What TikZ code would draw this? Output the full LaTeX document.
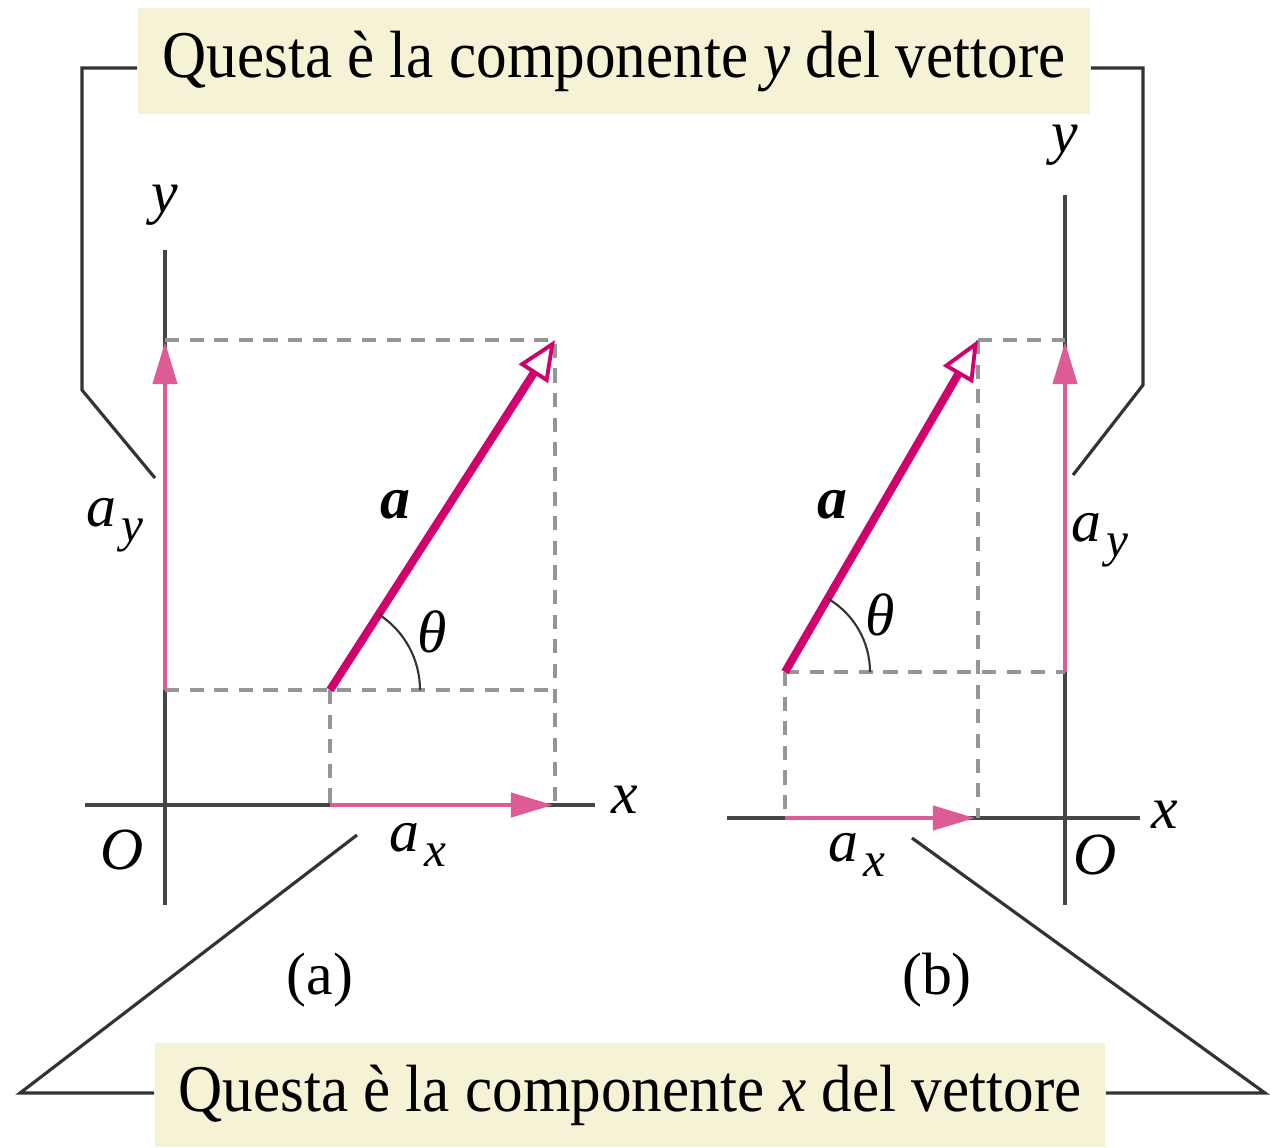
\documentclass[tikz,border=0pt]{standalone}
\usepackage{fontspec}
\setmainfont{Liberation Serif}
\newfontfamily\notefont[FakeStretch=0.915]{Liberation Serif}
\usepackage{tikz}
\usetikzlibrary{arrows.meta}

\definecolor{vecmag}{RGB}{208,0,108}
\definecolor{comppink}{RGB}{222,92,150}
\definecolor{notefill}{RGB}{246,242,214}
\definecolor{axisgray}{RGB}{70,70,70}
\definecolor{dashgray}{RGB}{150,150,150}

% component label: italic a with a lowered subscript
\newcommand{\complab}[1]{\textit{a}\kern1.5pt\raisebox{-0.55ex}{\fontsize{14}{14}\selectfont\textit{#1}}}

\begin{document}
\begin{tikzpicture}[x=0.01cm, y=-0.01cm,
axis/.style={draw=axisgray, line width=1pt},
guide/.style={draw=dashgray, line width=1pt, dash pattern=on 4pt off 3pt},
vec/.style={draw=vecmag, line width=2.3pt, -{Triangle[open, length=4mm, width=3.4mm, fill=white, line width=1.1pt]}},
comp/.style={draw=comppink, line width=1.2pt, -{Triangle[length=4.2mm, width=2.4mm]}},
callout/.style={draw=black!80, line width=0.9pt},
note/.style={fill=notefill, inner sep=0pt, font=\notefont\fontsize{19}{21}\selectfont},
lab/.style={inner sep=0pt, font=\fontsize{17}{19}\selectfont}
]
\useasboundingbox (0,0) rectangle (1270,1147);

% --- boxes
\node[note, minimum width=9.52cm, minimum height=1.05cm] (ynote) at (614,61) {Questa è la componente \textit{y} del vettore};
\node[note, minimum width=9.5cm, minimum height=1.04cm] (xnote) at (630,1095) {Questa è la componente \textit{x} del vettore};

% --- (a)
\coordinate (Oa) at (165,805);
\coordinate (tailA) at (330,690);
\coordinate (headA) at (555,340);
\draw[axis] (165,250) -- (165,905);
\draw[axis] (85,805) -- (595,805);
\draw[guide] (165,340) -- (headA) -- (555,805);
\draw[guide] (165,690) -- (555,690);
\draw[guide] (tailA) -- (330,805);
\draw[comp] (165,690) -- (165,342);
\draw[comp] (330,805) -- (553,805);
\draw[vec] (tailA) -- (headA);
\draw[black!80, line width=0.6pt] ([shift={(90,0)}]tailA) arc[start angle=0, end angle=-57, radius=90];

\node[lab] (ya) at (165,205) {\textit{y}};
\node[lab] (xa) at (625,800) {\textit{x}};
\node[lab] (oa) at (122,850) {\textit{O}};
\node[lab] (veca) at (395,505) {\textbf{\textit{a}}};
\node[lab] (tha) at (432,632) {\textit{θ}};
\node[lab] (axa) at (418,845) {\complab{x}};
\node[lab] (aya) at (115,525) {\complab{y}};
\node[lab] (capa) at (320,980) {(a)};

% --- (b)
\coordinate (Ob) at (1065,818);
\coordinate (tailB) at (785,672);
\coordinate (headB) at (978,340);
\draw[axis] (1065,195) -- (1065,905);
\draw[axis] (727,818) -- (1140,818);
\draw[guide] (headB) -- (1065,340);
\draw[guide] (headB) -- (978,818);
\draw[guide] (tailB) -- (1065,672);
\draw[guide] (tailB) -- (785,818);
\draw[comp] (1065,672) -- (1065,342);
\draw[comp] (785,818) -- (975,818);
\draw[vec] (tailB) -- (headB);
\draw[black!80, line width=0.6pt] ([shift={(85,0)}]tailB) arc[start angle=0, end angle=-60, radius=85];

\node[lab] (yb) at (1065,145) {\textit{y}};
\node[lab] (xb) at (1165,815) {\textit{x}};
\node[lab] (ob) at (1095,855) {\textit{O}};
\node[lab] (vecb) at (832,505) {\textbf{\textit{a}}};
\node[lab] (thb) at (880,615) {\textit{θ}};
\node[lab] (axb) at (857,855) {\complab{x}};
\node[lab] (ayb) at (1100,540) {\complab{y}};
\node[lab] (capb) at (937,980) {(b)};

% --- callouts
\coordinate (yendA) at (155,478);
\coordinate (yendB) at (1073,475);
\coordinate (xendA) at (357,835);
\coordinate (xendB) at (912,838);
\draw[callout] ([yshift=-0.07cm]ynote.west) -- (82,68) -- (82,390) -- (yendA);
\draw[callout] ([yshift=-0.07cm]ynote.east) -- (1143,68) -- (1143,385) -- (yendB);
\draw[callout] ([yshift=0.02cm]xnote.west) -- (20,1093) -- (xendA);
\draw[callout] ([yshift=0.02cm]xnote.east) -- (1265,1093) -- (xendB);
\end{tikzpicture}
\end{document}
